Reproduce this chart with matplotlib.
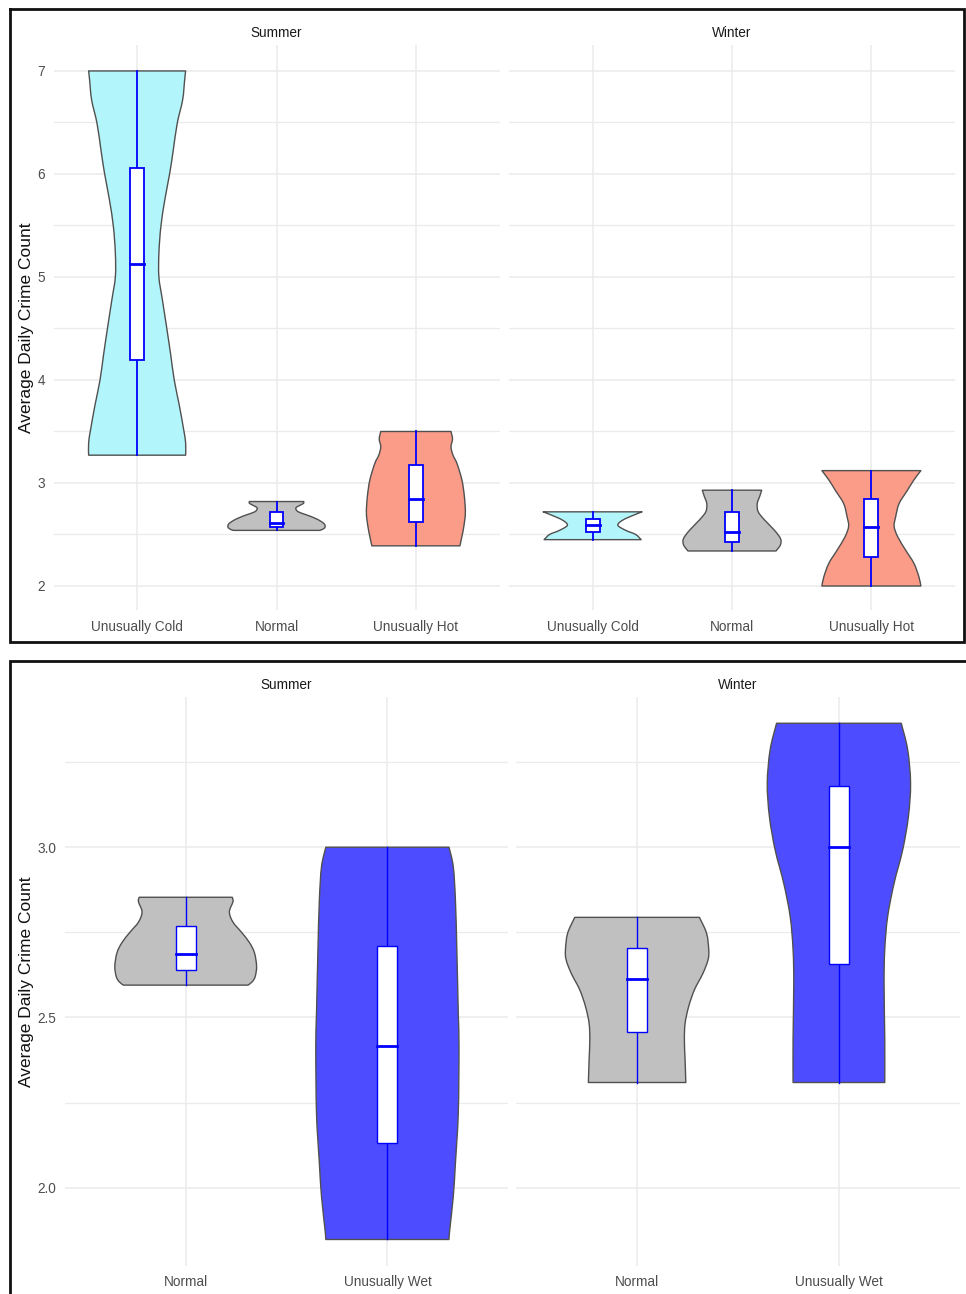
import matplotlib
matplotlib.use("Agg")
import matplotlib.pyplot as plt
from matplotlib.patches import Rectangle, PathPatch
from matplotlib.path import Path
from matplotlib.lines import Line2D
import numpy as np

plt.rcParams['font.family'] = ['Liberation Sans', 'DejaVu Sans']

W, H = 966, 1294

seasons = ["Summer", "Winter"]
temp_categories = ["Unusually Cold", "Normal", "Unusually Hot"]
rain_categories = ["Normal", "Unusually Wet"]
y_title = "Average Daily Crime Count"

temp_ticks = [2, 3, 4, 5, 6, 7]
temp_tick_labels = ["2", "3", "4", "5", "6", "7"]
rain_ticks = [2.0, 2.5, 3.0]
rain_tick_labels = ["2.0", "2.5", "3.0"]

# Box statistics per category: [lower whisker, Q1, median, Q3, upper whisker]
temp_summer_box = [[3.27, 4.19, 5.13, 6.06, 7.00],
                   [2.54, 2.57, 2.61, 2.72, 2.82],
                   [2.39, 2.62, 2.84, 3.17, 3.50]]
temp_winter_box = [[2.45, 2.52, 2.59, 2.65, 2.72],
                   [2.34, 2.43, 2.52, 2.72, 2.93],
                   [2.00, 2.28, 2.57, 2.84, 3.12]]
rain_summer_box = [[2.595, 2.639, 2.687, 2.769, 2.853],
                   [1.848, 2.132, 2.417, 2.710, 3.000]]
rain_winter_box = [[2.309, 2.458, 2.612, 2.703, 2.794],
                   [2.309, 2.656, 3.002, 3.180, 3.364]]

# Violin density profiles (crime count levels and relative density)
temp_summer_violin_y = [
    [7.00, 6.91, 6.72, 6.49, 6.23, 6.01, 5.75, 5.49, 5.23, 5.00, 4.78, 4.50, 4.24, 4.00, 3.76, 3.52, 3.39, 3.27],
    [2.82, 2.80, 2.77, 2.75, 2.72, 2.69, 2.66, 2.63, 2.60, 2.57, 2.55, 2.54],
    [3.50, 3.46, 3.42, 3.35, 3.27, 3.19, 3.03, 2.87, 2.71, 2.58, 2.48, 2.39],
]
temp_summer_violin_d = [
    [0.98, 0.96, 0.92, 0.81, 0.73, 0.66, 0.56, 0.48, 0.44, 0.44, 0.51, 0.60, 0.68, 0.75, 0.85, 0.94, 0.98, 0.98],
    [0.55, 0.54, 0.42, 0.39, 0.44, 0.61, 0.77, 0.89, 0.97, 0.98, 0.93, 0.87],
    [0.71, 0.73, 0.74, 0.71, 0.75, 0.83, 0.93, 0.98, 1.00, 0.97, 0.93, 0.89],
]
temp_winter_violin_y = [
    [2.72, 2.69, 2.64, 2.59, 2.54, 2.50, 2.45],
    [2.93, 2.87, 2.80, 2.72, 2.64, 2.54, 2.46, 2.40, 2.34],
    [3.12, 3.03, 2.93, 2.80, 2.67, 2.58, 2.48, 2.35, 2.22, 2.09, 2.00],
]
temp_winter_violin_d = [
    [1.00, 0.84, 0.61, 0.51, 0.67, 0.87, 0.98],
    [0.60, 0.56, 0.51, 0.53, 0.66, 0.86, 0.98, 0.98, 0.89],
    [1.00, 0.86, 0.73, 0.56, 0.49, 0.46, 0.53, 0.69, 0.86, 0.96, 1.00],
]
rain_summer_violin_y = [
    [2.853, 2.840, 2.810, 2.780, 2.750, 2.720, 2.690, 2.650, 2.620, 2.605, 2.595],
    [3.000, 2.943, 2.845, 2.698, 2.512, 2.414, 2.219, 2.072, 1.974, 1.875, 1.848],
]
rain_summer_violin_d = [
    [0.65, 0.66, 0.61, 0.66, 0.78, 0.89, 0.96, 0.99, 0.97, 0.93, 0.87],
    [0.86, 0.92, 0.95, 0.97, 0.99, 1.00, 0.99, 0.95, 0.92, 0.87, 0.86],
]
rain_winter_violin_y = [
    [2.794, 2.747, 2.698, 2.669, 2.630, 2.581, 2.532, 2.483, 2.434, 2.375, 2.309],
    [3.364, 3.286, 3.188, 3.090, 2.992, 2.894, 2.796, 2.700, 2.600, 2.434, 2.309],
]
rain_winter_violin_d = [
    [0.87, 0.97, 1.00, 0.99, 0.92, 0.80, 0.72, 0.67, 0.66, 0.67, 0.68],
    [0.87, 0.96, 1.00, 0.97, 0.89, 0.77, 0.68, 0.64, 0.63, 0.64, 0.64],
]

temp_colors = ["#B2F6FB", "#C0C0C0", "#FB9C88"]
rain_colors = ["#C0C0C0", "#4D4DFF"]

HALF_WIDTH = 0.355
BOX_WIDTH = 0.1
GRID = "#EBEBEB"
TICK_COLOR = "#4D4D4D"

fig = plt.figure(figsize=(W / 100, H / 100), dpi=100)


def px_axes(x0, y0, x1, y1):
    return fig.add_axes([x0 / W, 1 - y1 / H, (x1 - x0) / W, (y1 - y0) / H])


def style_axes(ax, ncat, ylim, ticks, labels, cats, show_y, title):
    for s in ax.spines.values():
        s.set_visible(False)
    ax.set_xticks(range(1, ncat + 1))
    ax.set_xticklabels(cats)
    step = ticks[1] - ticks[0]
    minor = [t + step / 2 for t in ticks[:-1]]
    minor = [ticks[0] - step / 2] + minor + [ticks[-1] + step / 2]
    minor = [m for m in minor if ylim[0] <= m <= ylim[1]]
    ax.set_yticks(ticks)
    ax.set_yticks(minor, minor=True)
    if show_y:
        ax.set_yticklabels(labels)
    else:
        ax.set_yticklabels([])
    ax.set_xlim(0.4, ncat + 0.6)
    ax.set_ylim(*ylim)
    ax.grid(which="major", color=GRID, lw=1.1)
    ax.grid(which="minor", axis="y", color=GRID, lw=0.9)
    ax.set_axisbelow(True)
    ax.tick_params(which="both", length=0, labelsize=9.8, labelcolor=TICK_COLOR)
    ax.tick_params(axis="x", pad=7)
    ax.tick_params(axis="y", pad=6)
    ax.annotate(title, xy=(0.5, 1.0), xycoords="axes fraction",
                xytext=(0, 8.5), textcoords="offset points",
                ha="center", va="center", fontsize=9.8, color="#1A1A1A")


def smooth_segments(pts):
    """Catmull-Rom curve through pts, returned as cubic Bezier vertices."""
    ext = np.vstack([pts[0], pts, pts[-1]])
    verts = []
    for i in range(len(pts) - 1):
        p0, p1, p2, p3 = ext[i], ext[i + 1], ext[i + 2], ext[i + 3]
        verts += [p1 + (p2 - p0) / 6, p2 - (p3 - p1) / 6, p2]
    return verts


def draw_violin(ax, xc, ys, dens, color):
    ys = np.asarray(ys, dtype=float)
    w = np.asarray(dens, dtype=float) * HALF_WIDTH
    left = np.column_stack([xc - w, ys])
    right = np.column_stack([xc + w, ys])[::-1]
    verts = [left[0]]
    codes = [Path.MOVETO]
    seg = smooth_segments(left)
    verts += seg
    codes += [Path.CURVE4] * len(seg)
    verts.append(right[0])
    codes.append(Path.LINETO)
    seg = smooth_segments(right)
    verts += seg
    codes += [Path.CURVE4] * len(seg)
    verts.append(left[0])
    codes.append(Path.CLOSEPOLY)
    ax.add_patch(PathPatch(Path(np.array(verts), codes), facecolor=color,
                           edgecolor="#505050", lw=1.0, joinstyle="round", zorder=2))


def draw_box(ax, xc, stats, lw):
    lo, q1, med, q3, hi = stats
    ax.add_line(Line2D([xc, xc], [lo, hi], color="#0000FF", lw=lw, zorder=4))
    ax.add_patch(Rectangle((xc - BOX_WIDTH / 2, q1), BOX_WIDTH, q3 - q1,
                           facecolor="white", edgecolor="#0000FF", lw=lw, zorder=5))
    ax.add_line(Line2D([xc - BOX_WIDTH / 2, xc + BOX_WIDTH / 2], [med, med],
                       color="#0000FF", lw=2.0, zorder=6))


# ---- Temperature panels ----
temp_ylim = (1.767, 7.252)
temp_axes = [px_axes(53.5, 45, 499.5, 610), px_axes(509, 45, 955, 610)]
temp_boxes = [temp_summer_box, temp_winter_box]
temp_vy = [temp_summer_violin_y, temp_winter_violin_y]
temp_vd = [temp_summer_violin_d, temp_winter_violin_d]
for i, ax in enumerate(temp_axes):
    style_axes(ax, 3, temp_ylim, temp_ticks, temp_tick_labels, temp_categories, i == 0, seasons[i])
    for j in range(3):
        draw_violin(ax, j + 1, temp_vy[i][j], temp_vd[i][j], temp_colors[j])
        draw_box(ax, j + 1, temp_boxes[i][j], 1.3)

# ---- Rainfall panels ----
rain_ylim = (1.771, 3.442)
rain_axes = [px_axes(64.7, 696.7, 508.4, 1265.7), px_axes(516, 696.7, 960, 1265.7)]
rain_boxes = [rain_summer_box, rain_winter_box]
rain_vy = [rain_summer_violin_y, rain_winter_violin_y]
rain_vd = [rain_summer_violin_d, rain_winter_violin_d]
for i, ax in enumerate(rain_axes):
    style_axes(ax, 2, rain_ylim, rain_ticks, rain_tick_labels, rain_categories, i == 0, seasons[i])
    for j in range(2):
        draw_violin(ax, j + 1, rain_vy[i][j], rain_vd[i][j], rain_colors[j])
        draw_box(ax, j + 1, rain_boxes[i][j], 1.0)

# Axis titles
fig.text(27 / W, 1 - 327.5 / H, y_title, rotation=90, ha="center", va="center",
         fontsize=12.5, color="#111111")
fig.text(27 / W, 1 - 981.5 / H, y_title, rotation=90, ha="center", va="center",
         fontsize=12.5, color="#111111")


# Frames around the two plots
def fig_line(xs, ys, lw=2.0):
    fig.add_artist(Line2D([x / W for x in xs], [1 - y / H for y in ys],
                          transform=fig.transFigure, color="#111111", lw=lw,
                          solid_joinstyle="miter"))


fig_line([10, 964, 964, 10, 10], [8.5, 8.5, 641.5, 641.5, 8.5])
fig_line([10, 10, 966], [1294, 660.7, 660.7])

fig.savefig("out.png", dpi=100)
